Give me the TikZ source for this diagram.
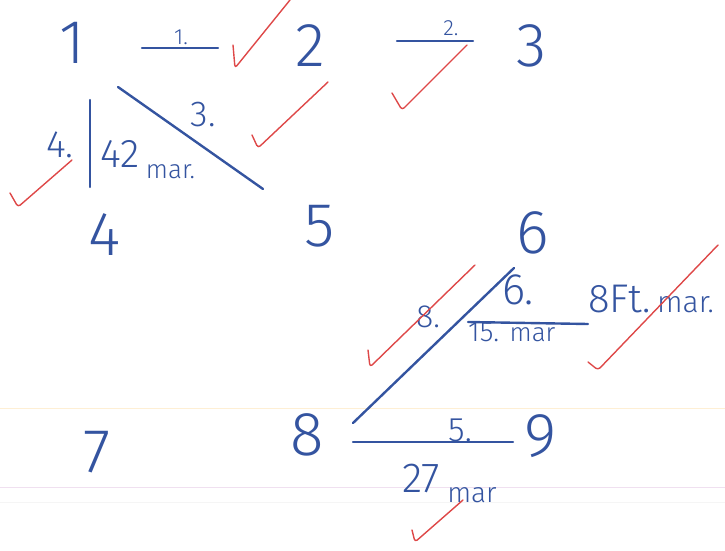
\documentclass[tikz,border=0pt]{standalone}
\usepackage{fontspec}
\setmainfont{Fira Sans}[UprightFont={* Light}]
\usetikzlibrary{calc}
\definecolor{inkblue}{RGB}{52,84,160}
\definecolor{inkred}{RGB}{222,72,72}

\begin{document}
\begin{tikzpicture}[
      x=1pt,y=-1pt,
      vertex/.style={inner sep=0pt, text=inkblue, font=\fontsize{62}{62}\selectfont},
      note/.style={inner sep=0pt, text=inkblue, font=\fontsize{#1}{#1}\selectfont},
      note/.default=30,
      edge/.style={draw=inkblue, line width=2.4pt, line cap=round},
      tick/.style={draw=inkred, line width=1.4pt, line cap=round, line join=round, rounded corners=3pt},
      paper/.style={line width=1pt}
    ]
      \useasboundingbox (0,0) rectangle (725,551);
      % lined paper
      \draw[paper, yellow!25!orange!15] (0,408) -- (725,408);
      \draw[paper, violet!12] (0,487) -- (725,487);
      \draw[paper, gray!8] (0,502) -- (725,502);
      % vertices
      \node[vertex] (n1) at (72,43) {1};
      \node[vertex] (n2) at (310,46) {2};
      \node[vertex] (n3) at (532,46) {3};
      \node[vertex] (n4) at (105,235) {4};
      \node[vertex] (n5) at (320,226) {5};
      \node[vertex] (n6) at (533,233) {6};
      \node[vertex] (n7) at (97,452) {7};
      \node[vertex] (n8) at (307,435) {8};
      \node[vertex] (n9) at (541,436) {9};
      % edges
      \draw[edge] ([shift={(70,5)}]n1.center) -- ([shift={(-92,2)}]n2.center);
      \draw[edge] ([shift={(87,-5)}]n2.center) -- ([shift={(-59,-5)}]n3.center);
      \draw[edge] ([shift={(46,44)}]n1.center) -- ([shift={(-57,-37)}]n5.center);
      \draw[edge] ([shift={(18,57)}]n1.center) -- ([shift={(-15,-48)}]n4.center);
      \draw[edge] ([shift={(46,-12)}]n8.center) -- ([shift={(-19,35)}]n6.center);
      \draw[edge] ([shift={(46,7)}]n8.center) -- ([shift={(-28,6)}]n9.center);
      % edge labels
      \node[note=22] (l1) at (181,37) {1.};
      \node[note=22] (l2) at (451,28) {2.};
      \node[note=36] (l3) at (203,115) {3.};
      \node[note=38] (l4) at (60,145) {4.};
      \node[note=40, anchor=base west] (w4) at (100,167) {42\,\raisebox{-11pt}{\fontsize{26}{26}\selectfont mar.}};
      \node[note=32] (l8) at (428,317) {8.};
      \node[note=44] (l6) at (518,290) {6.};
      \draw[edge] (468,322) -- (588,324);
      \node[note=28, anchor=base west] (w6) at (468,341) {15. {\fontsize{26}{26}\selectfont mar}};
      \node[note=40, anchor=base west] (f6) at (588,312) {8Ft.\,{\fontsize{30}{30}\selectfont mar.}};
      \node[note=34] (l5) at (460,430) {5.};
      \node[note=42, anchor=base west] (w5) at (402,492) {27\,\raisebox{-10pt}{\fontsize{28}{28}\selectfont mar}};
      % red ticks
      \draw[tick] (233,45) -- (235,68) -- (290,0);
      \draw[tick] (252,135) -- (258,148) -- (328,82);
      \draw[tick] (10,193) -- (18,207) -- (72,160);
      \draw[tick] (392,93) -- (402,110) -- (467,45);
      \draw[tick] (368,350) -- (370,367) -- (475,265);
      \draw[tick] (588,362) -- (598,370) -- (718,245);
      \draw[tick] (412,530) -- (415,542) -- (463,500);
    \end{tikzpicture}
\end{document}
